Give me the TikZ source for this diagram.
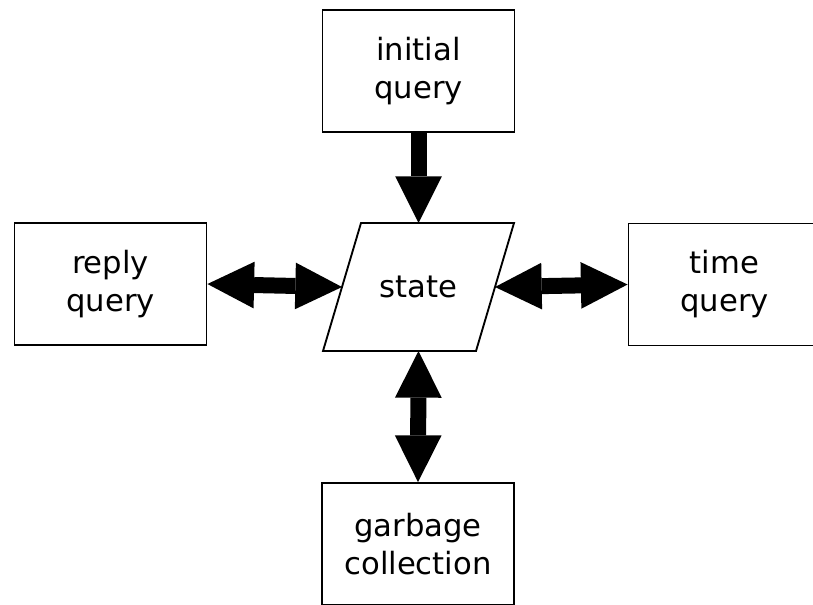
\documentclass[tikz,border=0pt]{standalone}
\usepackage{fontspec}
\setmainfont{DejaVu Sans}
\usetikzlibrary{arrows.meta}

\tikzset{
  label text/.style={font=\fontsize{23}{28.5}\selectfont, align=center, inner sep=0pt},
  querybox/.style={label text, draw=black, line width=1.4pt, rectangle,
    minimum width=144pt, minimum height=91.5pt},
  outline/.style={draw=black, line width=1.4pt, line join=miter},
  blocktip/.tip={Triangle[width=35pt,length=35pt,line width=0pt]},
  flow/.style={line width=12pt, line cap=butt, -blocktip},
  twoway/.style={line width=12pt, line cap=butt, blocktip-blocktip},
}

\begin{document}
\begin{tikzpicture}[x=0.75pt,y=-0.75pt]
  \useasboundingbox (0,0) rectangle (813,604);
  \clip (0,0) rectangle (813,604);

  % the shared state: a slanted parallelogram round its label
  \node[label text] (state) at (418.5,287) {state};
  \begin{scope}[shift={(state.center)}]
    \coordinate (state-tl) at (-57.5,-64);
    \coordinate (state-tr) at (95.5,-64);
    \coordinate (state-br) at (57.5,64);
    \coordinate (state-bl) at (-95.5,64);
    \coordinate (state-n) at (0,-64);
    \coordinate (state-s) at (0,64);
    \coordinate (state-w) at (-76.5,0);
    \coordinate (state-e) at (76.5,0);
  \end{scope}
  \draw[outline] (state-tl) -- (state-tr) -- (state-br) -- (state-bl) -- cycle;

  % the four queries around it
  \node[querybox] (init)  at (418.5,71)  {initial\\query};
  \node[querybox] (reply) at (110.5,284) {reply\\query};
  \node[querybox] (time)  at (724.5,284.5) {time\\query};
  \node[querybox] (gc)    at (418,544)   {garbage\\collection};

  % block arrows between them
  \draw[flow]   (init.south) -- (state-n);
  \draw[twoway] (reply.east) -- (state-w);
  \draw[twoway] (state-e) -- (time.west);
  \draw[twoway] (state-s) -- (gc.north);
\end{tikzpicture}
\end{document}
